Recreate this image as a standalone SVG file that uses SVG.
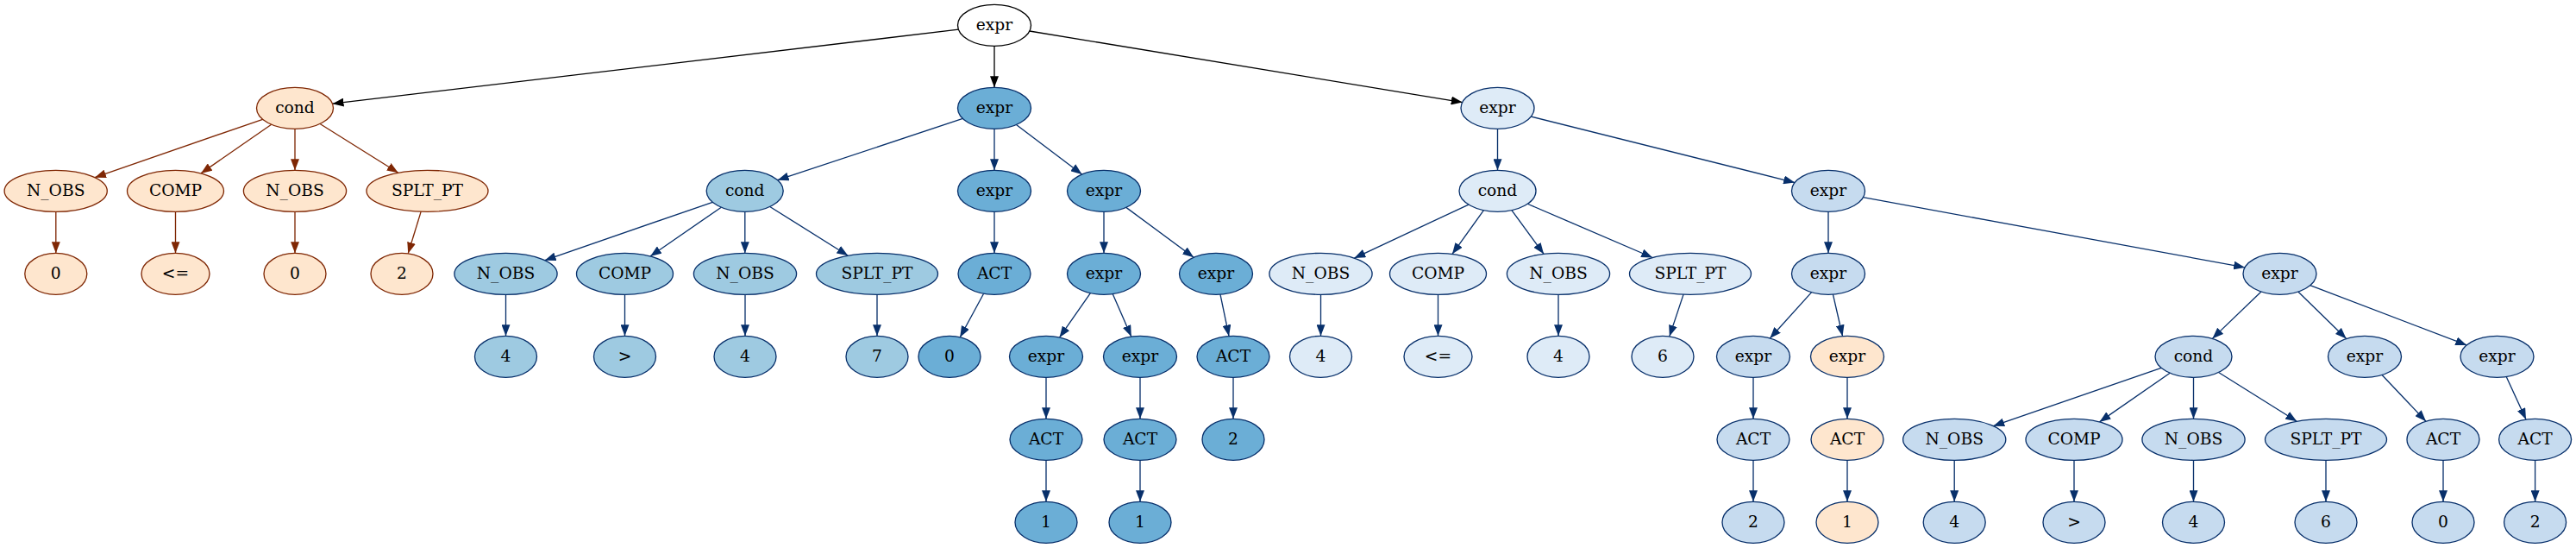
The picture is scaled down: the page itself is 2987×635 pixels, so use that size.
<svg xmlns="http://www.w3.org/2000/svg" width="2987" height="635" viewBox="0 0 2987 635">
<style>
ellipse{stroke-width:1.33}
.w{fill:#ffffff;stroke:#000000}
.o{fill:#fee6ce;stroke:#7f2704}
.b5{fill:#6baed6;stroke:#08306b}
.b4{fill:#9ecae1;stroke:#08306b}
.b3{fill:#c6dbef;stroke:#08306b}
.b2{fill:#deebf7;stroke:#08306b}
.p{fill:#fee6ce;stroke:#08306b}
text{font-family:"DejaVu Serif","Liberation Serif",serif;font-size:18.67px;text-anchor:middle;fill:#000}
#edges path{fill:none;stroke-width:1.33}
.ek{stroke:#000000;marker-end:url(#ak)}
.eo{stroke:#7f2704;marker-end:url(#ao)}
.eb{stroke:#08306b;marker-end:url(#ab)}
</style>
<defs>
<marker id="ak" viewBox="0 0 13 10" markerWidth="13" markerHeight="10" refX="13" refY="5" orient="auto" markerUnits="userSpaceOnUse"><path d="M0,0 L13,5 L0,10 z" fill="#000000"/></marker>
<marker id="ao" viewBox="0 0 13 10" markerWidth="13" markerHeight="10" refX="13" refY="5" orient="auto" markerUnits="userSpaceOnUse"><path d="M0,0 L13,5 L0,10 z" fill="#7f2704"/></marker>
<marker id="ab" viewBox="0 0 13 10" markerWidth="13" markerHeight="10" refX="13" refY="5" orient="auto" markerUnits="userSpaceOnUse"><path d="M0,0 L13,5 L0,10 z" fill="#08306b"/></marker>
</defs>
<rect width="2987" height="635" fill="#ffffff"/>
<g id="edges">
<path class="ek" d="M1111.4,34.2 L385.5,120.15"/>
<path class="ek" d="M1153,53.3 L1153,101.3"/>
<path class="ek" d="M1193.8,36 L1695.7,118.6"/>
<path class="eo" d="M304.55,138.26 L109.9,205.65"/>
<path class="eo" d="M314.67,144.24 L232.95,200.89"/>
<path class="eo" d="M342,149.3 L342,197.3"/>
<path class="eo" d="M371.06,143.47 L461.79,200.22"/>
<path class="eo" d="M64.8,245.3 L64.8,293.3"/>
<path class="eo" d="M203.5,245.3 L203.5,293.3"/>
<path class="eo" d="M342,245.3 L342,293.3"/>
<path class="eo" d="M488.17,245.17 L473.22,293.79"/>
<path class="eb" d="M1116.36,137.46 L901.6,208.72"/>
<path class="eb" d="M1153,149.3 L1153,197.3"/>
<path class="eb" d="M1178.44,144.53 L1254.56,202.07"/>
<path class="eb" d="M826.26,234.26 L631.68,301.65"/>
<path class="eb" d="M836.29,240.2 L754.06,296.91"/>
<path class="eb" d="M863.8,245.3 L863.8,293.3"/>
<path class="eb" d="M892.73,239.47 L983.33,296.22"/>
<path class="eb" d="M586.5,341.3 L586.5,389.3"/>
<path class="eb" d="M724.5,341.3 L724.5,389.3"/>
<path class="eb" d="M864,341.3 L864,389.3"/>
<path class="eb" d="M1017,341.3 L1017,389.3"/>
<path class="eb" d="M1153,245.3 L1153,293.3"/>
<path class="eb" d="M1140.58,340.23 L1113.23,390.73"/>
<path class="eb" d="M1280,245.3 L1280,293.3"/>
<path class="eb" d="M1305.82,240.36 L1384.18,298.24"/>
<path class="eb" d="M1264.42,339.63 L1228.58,390.97"/>
<path class="eb" d="M1290.19,340.6 L1311.81,390"/>
<path class="eb" d="M1414.97,341.14 L1425.04,389.47"/>
<path class="eb" d="M1213,437.3 L1213,485.3"/>
<path class="eb" d="M1322,437.3 L1322,485.3"/>
<path class="eb" d="M1430,437.3 L1430,485.3"/>
<path class="eb" d="M1213,533.3 L1213,581.3"/>
<path class="eb" d="M1322,533.3 L1322,581.3"/>
<path class="eb" d="M1736.5,149.3 L1736.5,197.3"/>
<path class="eb" d="M1775.35,135.03 L2081.15,211.57"/>
<path class="eb" d="M1702.9,237.04 L1570.36,299.1"/>
<path class="eb" d="M1720.42,243.68 L1683.99,294.36"/>
<path class="eb" d="M1752.89,243.61 L1790.1,294.29"/>
<path class="eb" d="M1771.32,236.25 L1916.21,298.49"/>
<path class="eb" d="M1531.5,341.3 L1531.5,389.3"/>
<path class="eb" d="M1667.5,341.3 L1667.5,389.3"/>
<path class="eb" d="M1807,341.3 L1807,389.3"/>
<path class="eb" d="M1952.05,341.15 L1935.81,389.87"/>
<path class="eb" d="M2120,245.3 L2120,293.3"/>
<path class="eb" d="M2160.42,228.71 L2603.08,309.89"/>
<path class="eb" d="M2100.64,338.67 L2052.36,391.93"/>
<path class="eb" d="M2125.45,341.1 L2136.55,389.5"/>
<path class="eb" d="M2033,437.3 L2033,485.3"/>
<path class="eb" d="M2142,437.3 L2142,485.3"/>
<path class="eb" d="M2033,533.3 L2033,581.3"/>
<path class="eb" d="M2142,533.3 L2142,581.3"/>
<path class="eb" d="M2621.95,337.99 L2565.3,392.38"/>
<path class="eb" d="M2664.81,338.07 L2720.69,392.53"/>
<path class="eb" d="M2678.73,330.72 L2860.27,399.88"/>
<path class="eb" d="M2506.04,426.26 L2311.22,493.65"/>
<path class="eb" d="M2516.17,432.24 L2434.45,488.89"/>
<path class="eb" d="M2543.5,437.3 L2543.5,485.3"/>
<path class="eb" d="M2572.56,431.47 L2663.29,488.22"/>
<path class="eb" d="M2762.06,434.46 L2813,488.2"/>
<path class="eb" d="M2906.2,436.53 L2929.01,486.09"/>
<path class="eb" d="M2266.2,533.3 L2266.2,581.3"/>
<path class="eb" d="M2405,533.3 L2405,581.3"/>
<path class="eb" d="M2543.5,533.3 L2543.5,581.3"/>
<path class="eb" d="M2697,533.3 L2697,581.3"/>
<path class="eb" d="M2833,533.3 L2833,581.3"/>
<path class="eb" d="M2939.6,533.3 L2939.6,581.3"/>
</g>
<g id="n0"><ellipse class="w" cx="1153" cy="29.3" rx="42.5" ry="24"/><text x="1153" y="34.8">expr</text></g>
<g id="n1"><ellipse class="o" cx="342" cy="125.3" rx="44.5" ry="24"/><text x="342" y="130.8">cond</text></g>
<g id="n2"><ellipse class="b5" cx="1153" cy="125.3" rx="42.5" ry="24"/><text x="1153" y="130.8">expr</text></g>
<g id="n3"><ellipse class="b2" cx="1736.5" cy="125.3" rx="42.5" ry="24"/><text x="1736.5" y="130.8">expr</text></g>
<g id="n4"><ellipse class="o" cx="64.7" cy="221.3" rx="59.6" ry="24"/><text x="64.7" y="226.8">N_OBS</text></g>
<g id="n5"><ellipse class="o" cx="203.5" cy="221.3" rx="56" ry="24"/><text x="203.5" y="226.8">COMP</text></g>
<g id="n6"><ellipse class="o" cx="342" cy="221.3" rx="59.6" ry="24"/><text x="342" y="226.8">N_OBS</text></g>
<g id="n7"><ellipse class="o" cx="495.5" cy="221.3" rx="70.5" ry="24"/><text x="495.5" y="226.8">SPLT_PT</text></g>
<g id="n8"><ellipse class="b4" cx="863.7" cy="221.3" rx="44.5" ry="24"/><text x="863.7" y="226.8">cond</text></g>
<g id="n9"><ellipse class="b5" cx="1153" cy="221.3" rx="42.5" ry="24"/><text x="1153" y="226.8">expr</text></g>
<g id="n10"><ellipse class="b5" cx="1280" cy="221.3" rx="42.5" ry="24"/><text x="1280" y="226.8">expr</text></g>
<g id="n11"><ellipse class="b2" cx="1736.5" cy="221.3" rx="44.5" ry="24"/><text x="1736.5" y="226.8">cond</text></g>
<g id="n12"><ellipse class="b3" cx="2120" cy="221.3" rx="42.5" ry="24"/><text x="2120" y="226.8">expr</text></g>
<g id="n13"><ellipse class="o" cx="64.8" cy="317.3" rx="36" ry="24"/><text x="64.8" y="322.8">0</text></g>
<g id="n14"><ellipse class="o" cx="203.5" cy="317.3" rx="39.5" ry="24"/><text x="203.5" y="322.8">&lt;=</text></g>
<g id="n15"><ellipse class="o" cx="342" cy="317.3" rx="36" ry="24"/><text x="342" y="322.8">0</text></g>
<g id="n16"><ellipse class="o" cx="466" cy="317.3" rx="36" ry="24"/><text x="466" y="322.8">2</text></g>
<g id="n17"><ellipse class="b4" cx="586.5" cy="317.3" rx="59.6" ry="24"/><text x="586.5" y="322.8">N_OBS</text></g>
<g id="n18"><ellipse class="b4" cx="724.5" cy="317.3" rx="56" ry="24"/><text x="724.5" y="322.8">COMP</text></g>
<g id="n19"><ellipse class="b4" cx="864" cy="317.3" rx="59.6" ry="24"/><text x="864" y="322.8">N_OBS</text></g>
<g id="n20"><ellipse class="b4" cx="1017" cy="317.3" rx="70.5" ry="24"/><text x="1017" y="322.8">SPLT_PT</text></g>
<g id="n21"><ellipse class="b5" cx="1153" cy="317.3" rx="42" ry="24"/><text x="1153" y="322.8">ACT</text></g>
<g id="n22"><ellipse class="b5" cx="1280" cy="317.3" rx="42.5" ry="24"/><text x="1280" y="322.8">expr</text></g>
<g id="n23"><ellipse class="b5" cx="1410" cy="317.3" rx="42.5" ry="24"/><text x="1410" y="322.8">expr</text></g>
<g id="n24"><ellipse class="b2" cx="1531.5" cy="317.3" rx="59.6" ry="24"/><text x="1531.5" y="322.8">N_OBS</text></g>
<g id="n25"><ellipse class="b2" cx="1667.5" cy="317.3" rx="56" ry="24"/><text x="1667.5" y="322.8">COMP</text></g>
<g id="n26"><ellipse class="b2" cx="1807" cy="317.3" rx="59.6" ry="24"/><text x="1807" y="322.8">N_OBS</text></g>
<g id="n27"><ellipse class="b2" cx="1960" cy="317.3" rx="70.5" ry="24"/><text x="1960" y="322.8">SPLT_PT</text></g>
<g id="n28"><ellipse class="b3" cx="2120" cy="317.3" rx="42.5" ry="24"/><text x="2120" y="322.8">expr</text></g>
<g id="n29"><ellipse class="b3" cx="2643.5" cy="317.3" rx="42.5" ry="24"/><text x="2643.5" y="322.8">expr</text></g>
<g id="n30"><ellipse class="b4" cx="586.5" cy="413.3" rx="36" ry="24"/><text x="586.5" y="418.8">4</text></g>
<g id="n31"><ellipse class="b4" cx="724.5" cy="413.3" rx="36" ry="24"/><text x="724.5" y="418.8">&gt;</text></g>
<g id="n32"><ellipse class="b4" cx="864" cy="413.3" rx="36" ry="24"/><text x="864" y="418.8">4</text></g>
<g id="n33"><ellipse class="b4" cx="1017" cy="413.3" rx="36" ry="24"/><text x="1017" y="418.8">7</text></g>
<g id="n34"><ellipse class="b5" cx="1101" cy="413.3" rx="36" ry="24"/><text x="1101" y="418.8">0</text></g>
<g id="n35"><ellipse class="b5" cx="1213" cy="413.3" rx="42.5" ry="24"/><text x="1213" y="418.8">expr</text></g>
<g id="n36"><ellipse class="b5" cx="1322" cy="413.3" rx="42.5" ry="24"/><text x="1322" y="418.8">expr</text></g>
<g id="n37"><ellipse class="b5" cx="1430" cy="413.3" rx="42" ry="24"/><text x="1430" y="418.8">ACT</text></g>
<g id="n38"><ellipse class="b2" cx="1531.5" cy="413.3" rx="36" ry="24"/><text x="1531.5" y="418.8">4</text></g>
<g id="n39"><ellipse class="b2" cx="1667.5" cy="413.3" rx="39.5" ry="24"/><text x="1667.5" y="418.8">&lt;=</text></g>
<g id="n40"><ellipse class="b2" cx="1807" cy="413.3" rx="36" ry="24"/><text x="1807" y="418.8">4</text></g>
<g id="n41"><ellipse class="b2" cx="1928" cy="413.3" rx="36" ry="24"/><text x="1928" y="418.8">6</text></g>
<g id="n42"><ellipse class="b3" cx="2033" cy="413.3" rx="42.5" ry="24"/><text x="2033" y="418.8">expr</text></g>
<g id="n43"><ellipse class="p" cx="2142" cy="413.3" rx="42.5" ry="24"/><text x="2142" y="418.8">expr</text></g>
<g id="n44"><ellipse class="b3" cx="2543.5" cy="413.3" rx="44.5" ry="24"/><text x="2543.5" y="418.8">cond</text></g>
<g id="n45"><ellipse class="b3" cx="2742" cy="413.3" rx="42.5" ry="24"/><text x="2742" y="418.8">expr</text></g>
<g id="n46"><ellipse class="b3" cx="2895.5" cy="413.3" rx="42.5" ry="24"/><text x="2895.5" y="418.8">expr</text></g>
<g id="n47"><ellipse class="b5" cx="1213" cy="509.3" rx="42" ry="24"/><text x="1213" y="514.8">ACT</text></g>
<g id="n48"><ellipse class="b5" cx="1322" cy="509.3" rx="42" ry="24"/><text x="1322" y="514.8">ACT</text></g>
<g id="n49"><ellipse class="b5" cx="1430" cy="509.3" rx="36" ry="24"/><text x="1430" y="514.8">2</text></g>
<g id="n50"><ellipse class="b3" cx="2033" cy="509.3" rx="42" ry="24"/><text x="2033" y="514.8">ACT</text></g>
<g id="n51"><ellipse class="p" cx="2142" cy="509.3" rx="42" ry="24"/><text x="2142" y="514.8">ACT</text></g>
<g id="n52"><ellipse class="b3" cx="2266.2" cy="509.3" rx="59.6" ry="24"/><text x="2266.2" y="514.8">N_OBS</text></g>
<g id="n53"><ellipse class="b3" cx="2405" cy="509.3" rx="56" ry="24"/><text x="2405" y="514.8">COMP</text></g>
<g id="n54"><ellipse class="b3" cx="2543.5" cy="509.3" rx="59.6" ry="24"/><text x="2543.5" y="514.8">N_OBS</text></g>
<g id="n55"><ellipse class="b3" cx="2697" cy="509.3" rx="70.5" ry="24"/><text x="2697" y="514.8">SPLT_PT</text></g>
<g id="n56"><ellipse class="b3" cx="2833" cy="509.3" rx="42" ry="24"/><text x="2833" y="514.8">ACT</text></g>
<g id="n57"><ellipse class="b3" cx="2939.6" cy="509.3" rx="42" ry="24"/><text x="2939.6" y="514.8">ACT</text></g>
<g id="n58"><ellipse class="b5" cx="1213" cy="605.3" rx="36" ry="24"/><text x="1213" y="610.8">1</text></g>
<g id="n59"><ellipse class="b5" cx="1322" cy="605.3" rx="36" ry="24"/><text x="1322" y="610.8">1</text></g>
<g id="n60"><ellipse class="b3" cx="2033" cy="605.3" rx="36" ry="24"/><text x="2033" y="610.8">2</text></g>
<g id="n61"><ellipse class="p" cx="2142" cy="605.3" rx="36" ry="24"/><text x="2142" y="610.8">1</text></g>
<g id="n62"><ellipse class="b3" cx="2266.2" cy="605.3" rx="36" ry="24"/><text x="2266.2" y="610.8">4</text></g>
<g id="n63"><ellipse class="b3" cx="2405" cy="605.3" rx="36" ry="24"/><text x="2405" y="610.8">&gt;</text></g>
<g id="n64"><ellipse class="b3" cx="2543.5" cy="605.3" rx="36" ry="24"/><text x="2543.5" y="610.8">4</text></g>
<g id="n65"><ellipse class="b3" cx="2697" cy="605.3" rx="36" ry="24"/><text x="2697" y="610.8">6</text></g>
<g id="n66"><ellipse class="b3" cx="2833" cy="605.3" rx="36" ry="24"/><text x="2833" y="610.8">0</text></g>
<g id="n67"><ellipse class="b3" cx="2939.6" cy="605.3" rx="36" ry="24"/><text x="2939.6" y="610.8">2</text></g>
</svg>
